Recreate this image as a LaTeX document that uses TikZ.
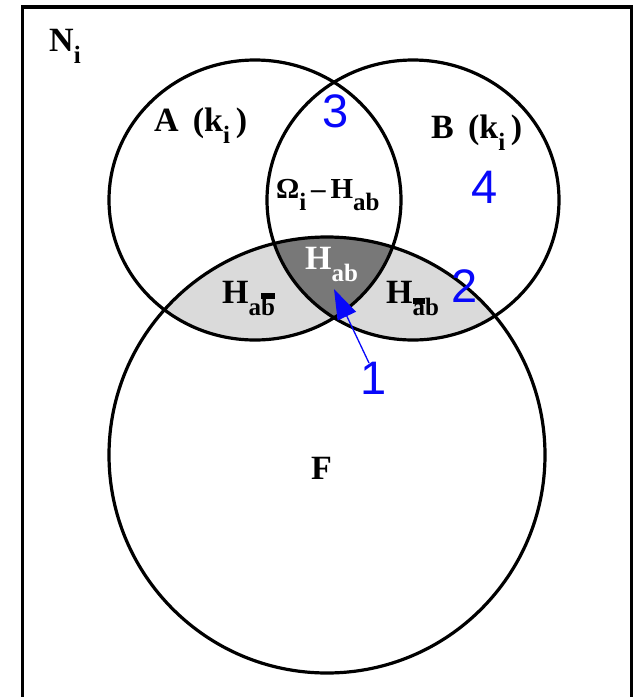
\documentclass[tikz,border=0pt]{standalone}
\usepackage{fontspec}
\setmainfont{Liberation Serif}
\newfontfamily\numfont{Liberation Sans}
\usetikzlibrary{arrows.meta}
\definecolor{lightgr}{RGB}{218,218,218}
\definecolor{darkgr}{RGB}{120,120,120}
\definecolor{numblue}{RGB}{8,8,250}
\newcommand{\lbl}[1]{{\fontsize{34}{34}\selectfont\bfseries #1}}
\newcommand{\lblsm}[1]{{\fontsize{29}{29}\selectfont\bfseries #1}}
\newcommand{\subtxt}[1]{\raisebox{-12pt}{\fontsize{25}{25}\selectfont\bfseries #1}}
\newcommand{\thickbar}[1]{\vbox{\hrule height 6pt\kern-1pt\hbox{#1}}}
\begin{document}
\begin{tikzpicture}[x=1pt,y=-1pt,
  circ/.style={line width=3.2pt},
  numlbl/.style={text=numblue,font=\numfont\fontsize{47}{47}\selectfont,inner sep=0pt},
  txtlbl/.style={anchor=base west,inner sep=0pt}]
\useasboundingbox (0,0) rectangle (643,697);
\clip (0,0) rectangle (643,697);
\fill[white] (0,0) rectangle (643,697);
\coordinate (cA) at (255,200);
\coordinate (cB) at (413,200);
\coordinate (cF) at (327,455);
% shaded regions
\begin{scope}
  \clip (cF) circle [radius=218];
  \fill[lightgr] (cA) ellipse [x radius=146, y radius=140];
  \fill[lightgr] (cB) ellipse [x radius=146, y radius=140];
  \clip (cA) ellipse [x radius=146, y radius=140];
  \fill[darkgr] (cB) ellipse [x radius=146, y radius=140];
\end{scope}
% circles
\draw[circ] (cA) ellipse [x radius=146, y radius=140];
\draw[circ] (cB) ellipse [x radius=146, y radius=140];
\draw[circ] (cF) circle [radius=218];
% frame
\draw[line width=3.2pt] (22.5,720) -- (22.5,7) -- (631.5,7) -- (631.5,720);
% labels
\node[txtlbl] (ni) at (49,51) {\lbl{N}\subtxt{i}};
\node[txtlbl] (la) at (154,131) {\lbl{A\, (k\subtxt{i}\,)}};
\node[txtlbl] (lb) at (431,138) {\lbl{B\, (k\subtxt{i}\,)}};
\node[txtlbl] (lom) at (276,198) {\lblsm{Ω}\subtxt{i}\lblsm{\,–\,H}\subtxt{ab}};
\node[txtlbl,text=white] (lhab) at (305,269) {\lbl{H}\raisebox{-12pt}{\fontsize{25}{25}\selectfont\bfseries\color{white}ab}};
\node[txtlbl] (lhl) at (222,303) {\lbl{H}\subtxt{a\thickbar{b}}};
\node[txtlbl] (lhr) at (386,303) {\lbl{H}\subtxt{\thickbar{a}b}};
\node[txtlbl] (lf) at (311,479) {\lbl{F}};
% blue numbers
\node[numlbl] (n3) at (336,111) {3};
\node[numlbl] (n4) at (485,187) {4};
\node[numlbl] (n2) at (465,286) {2};
\node[numlbl] (n1) at (374,378) {1};
\coordinate (arrstart) at (369,363);
\coordinate (tip) at (334,289);
\draw[numblue,line width=1.3pt,-{Triangle[length=30pt,width=20pt]}] (arrstart) -- (tip);
\end{tikzpicture}
\end{document}
